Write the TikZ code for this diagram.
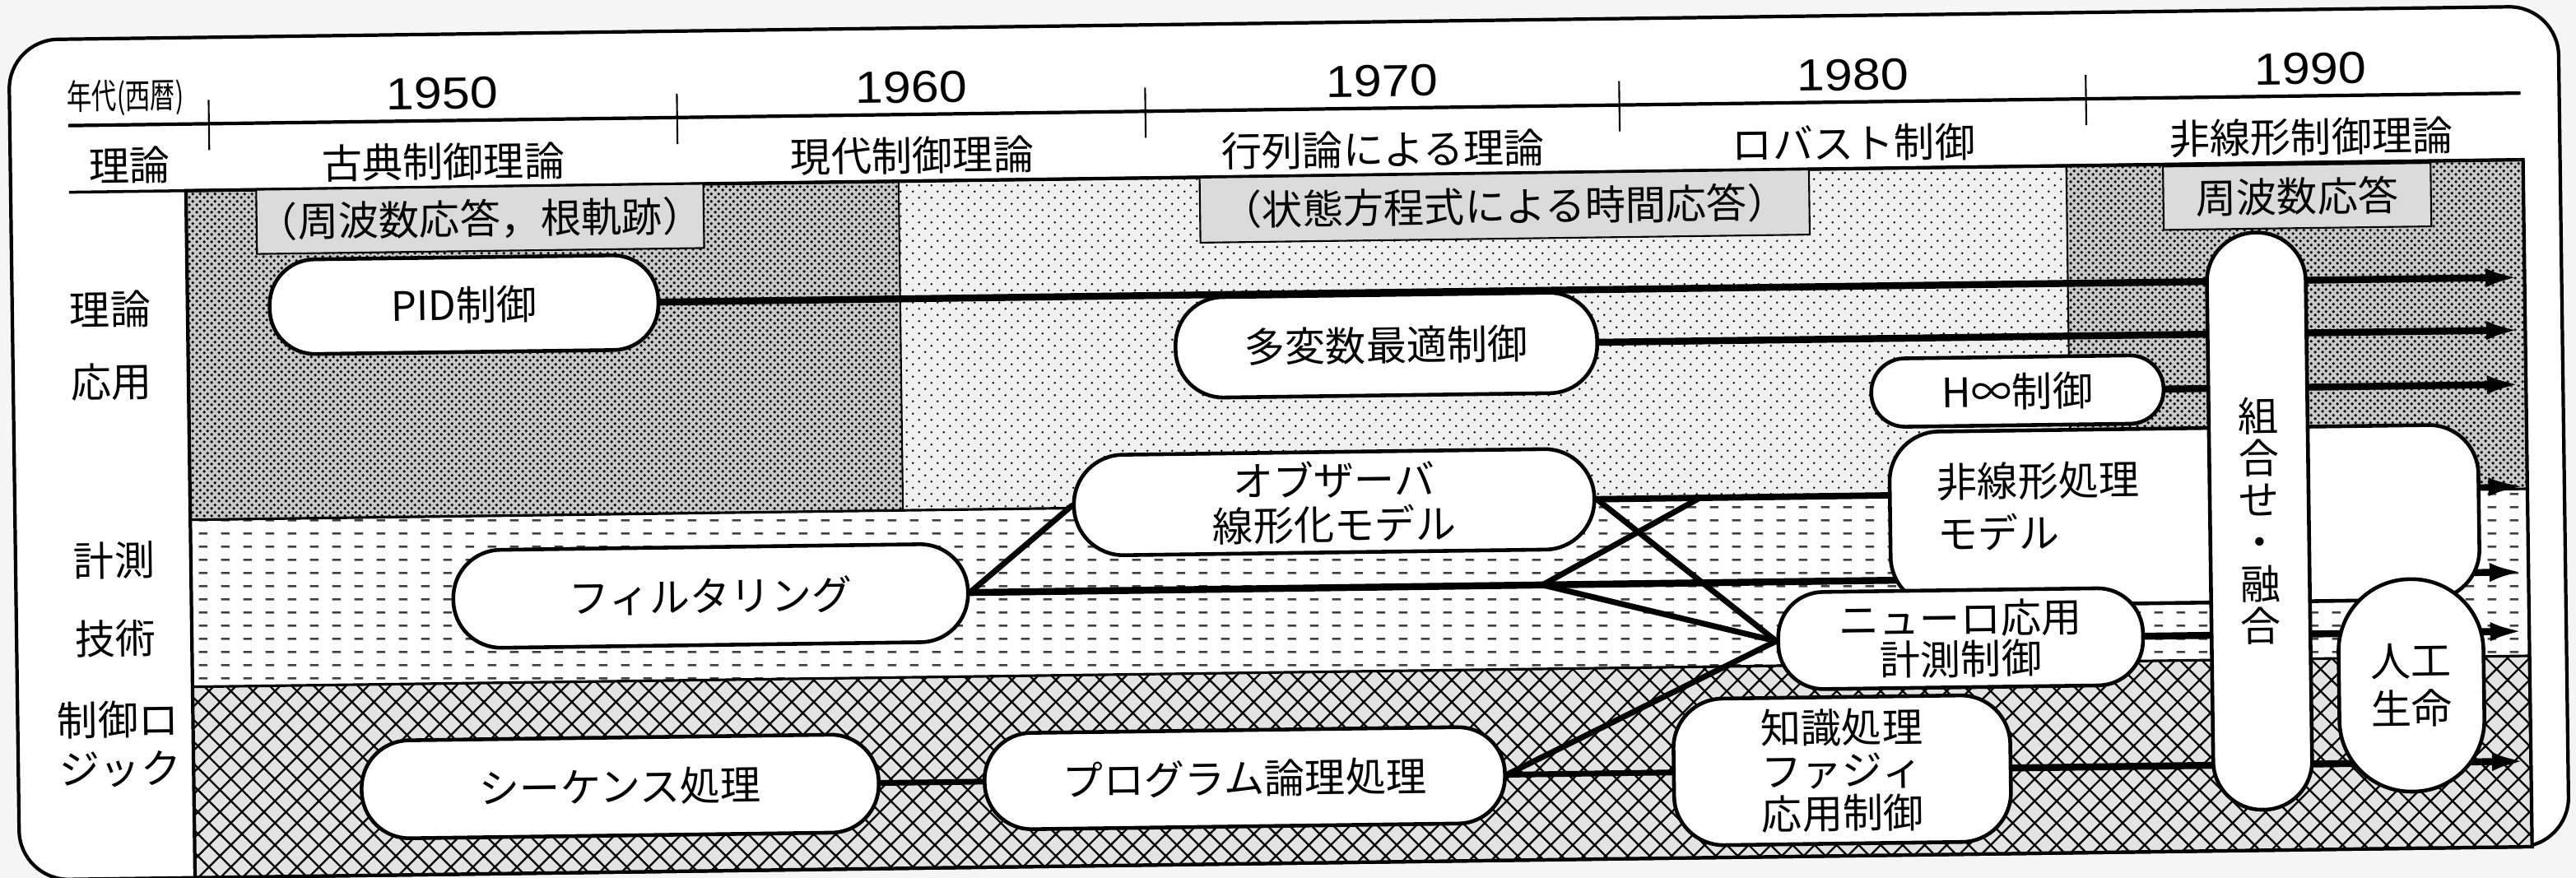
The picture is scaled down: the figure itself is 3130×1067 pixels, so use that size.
\documentclass[tikz,border=0pt]{standalone}
\usepackage{graphicx}
\usepackage{fontspec}
\setmainfont{Noto Sans CJK JP}
\newfontfamily\digitfont{Liberation Sans}
\usetikzlibrary{patterns,arrows.meta}
\pgfdeclarelayer{back}
\pgfdeclarelayer{bg}
\pgfdeclarelayer{conn}
\pgfsetlayers{back,bg,conn,main}

\pgfdeclarepatternformonly{densedots}{\pgfqpoint{0pt}{0pt}}{\pgfqpoint{2.6pt}{2.6pt}}{\pgfqpoint{2.6pt}{2.6pt}}{%
\pgfpathcircle{\pgfqpoint{0.65pt}{0.65pt}}{0.58pt}%
\pgfpathcircle{\pgfqpoint{1.95pt}{1.95pt}}{0.58pt}%
\pgfusepath{fill}}
\pgfdeclarepatternformonly{sparsedots}{\pgfqpoint{0pt}{0pt}}{\pgfqpoint{4.4pt}{4.4pt}}{\pgfqpoint{4.4pt}{4.4pt}}{%
\pgfpathcircle{\pgfqpoint{1.1pt}{1.1pt}}{0.42pt}%
\pgfpathcircle{\pgfqpoint{3.3pt}{3.3pt}}{0.42pt}%
\pgfusepath{fill}}
\pgfdeclarepatternformonly{hdash}{\pgfqpoint{0pt}{0pt}}{\pgfqpoint{7.6pt}{4.45pt}}{\pgfqpoint{7.6pt}{4.45pt}}{%
\pgfsetlinewidth{0.7pt}%
\pgfpathmoveto{\pgfqpoint{0.5pt}{2.2pt}}\pgfpathlineto{\pgfqpoint{3.5pt}{2.2pt}}%
\pgfusepath{stroke}}
\pgfdeclarepatternformonly{xhatch}{\pgfqpoint{-0.5pt}{-0.5pt}}{\pgfqpoint{8.1pt}{8.1pt}}{\pgfqpoint{7.6pt}{7.6pt}}{%
\pgfsetlinewidth{0.65pt}%
\pgfpathmoveto{\pgfqpoint{-0.5pt}{-0.5pt}}\pgfpathlineto{\pgfqpoint{8.1pt}{8.1pt}}%
\pgfpathmoveto{\pgfqpoint{-0.5pt}{8.1pt}}\pgfpathlineto{\pgfqpoint{8.1pt}{-0.5pt}}%
\pgfusepath{stroke}}

\newcommand{\myyr}[1]{\scalebox{1.12}[1]{\digitfont #1}}

\begin{document}
\begin{tikzpicture}[x=0.01cm,y=-0.01cm,
  lbl/.style={inner sep=0pt, font=\fontsize{14}{17}\selectfont},
  yrlbl/.style={inner sep=0pt, font=\fontsize{15.5}{19}\selectfont},
  pill/.style={draw, fill=white, line width=1.3pt, inner sep=0pt, align=center, font=\fontsize{14}{17}\selectfont},
  gbox/.style={draw, fill=gray!28, line width=0.6pt, inner sep=0pt, font=\fontsize{14}{17}\selectfont},
  arr/.style={line width=2.4pt, -{Latex[length=12pt,width=6.5pt]}},
  ln/.style={line width=2pt, line cap=round, line join=round}]

\useasboundingbox (0,0) rectangle (3130,1067);
\begin{pgfonlayer}{back}
  \fill[gray!8] (0,0) rectangle (3130,1067);
\end{pgfonlayer}

\begin{scope}[rotate around={0.76:(1565,533)}, transform shape]

\begin{pgfonlayer}{bg}
  % outer frame
  \draw[line width=1.2pt, fill=white, rounded corners=0.6cm] (17,28) rectangle (3115,1049);
  % bands
  \fill[gray!42] (230,214) rectangle (1096,614);
  \fill[pattern=densedots] (230,214) rectangle (1096,614);
  \fill[gray!12] (1096,214) rectangle (2515,614);
  \fill[pattern=sparsedots] (1096,214) rectangle (2515,614);
  \fill[gray!42] (2515,214) rectangle (3070,614);
  \fill[pattern=densedots] (2515,214) rectangle (3070,614);
  \fill[white] (230,614) rectangle (3070,817);
  \fill[pattern=hdash, pattern color=black!75] (230,614) rectangle (3070,817);
  \fill[gray!22] (230,817) rectangle (3070,1049);
  \fill[pattern=xhatch] (230,817) rectangle (3070,1049);
  % boundaries
  \draw[line width=0.9pt] (230,614) -- (3070,614);
  \draw[line width=0.9pt] (230,817) -- (3070,817);
  \draw[line width=0.6pt] (1096,214) -- (1096,614);
  \draw[line width=0.6pt] (2515,214) -- (2515,614);
  \draw[line width=1.2pt] (230,214) rectangle (3070,1049);
  % header lines
  \draw[line width=1.2pt] (88,133) -- (3068,133);
  \draw[line width=1pt] (88,214) -- (3070,214);
  \foreach \x in {259,828,1397,1973,2540} \draw[line width=0.6pt] (\x,104) -- (\x,165);
\end{pgfonlayer}

% header texts
\node[inner sep=0pt, font=\fontsize{12}{14}\selectfont] (era) at (158,100) {\scalebox{0.72}[1]{年代(西暦)}};
\node[yrlbl] (y1950) at (543,100) {\myyr{1950}};
\node[yrlbl] (y1960) at (1113,100) {\myyr{1960}};
\node[yrlbl] (y1970) at (1685,100) {\myyr{1970}};
\node[yrlbl] (y1980) at (2257,100) {\myyr{1980}};
\node[yrlbl] (y1990) at (2813,100) {\myyr{1990}};
\node[lbl] (hth) at (162,182) {理論};
\node[lbl] (th1) at (543,183) {古典制御理論};
\node[lbl] (th2) at (1113,183) {現代制御理論};
\node[lbl] (th3) at (1685,183) {行列論による理論};
\node[lbl] (th4) at (2257,183) {ロバスト制御};
\node[lbl] (th5) at (2813,183) {非線形制御理論};

% left labels
\node[lbl] (l1) at (136,357) {理論};
\node[lbl] (l2) at (136,445) {応用};
\node[lbl] (l3) at (137,662) {計測};
\node[lbl] (l4) at (137,757) {技術};
\node[lbl] (l5) at (139,856) {制御ロ};
\node[lbl] (l6) at (141,916) {ジック};

% gray label boxes
\node[gbox, minimum width=5.43cm, minimum height=0.78cm] (gb1) at (587,253) {（周波数応答，根軌跡）};
\node[gbox, minimum width=7.40cm, minimum height=0.79cm] (gb2) at (1832,254) {（状態方程式による時間応答）};
\node[gbox, minimum width=3.25cm, minimum height=0.77cm] (gb3) at (2795,255) {周波数応答};

% pills
\node[pill, minimum width=4.72cm, minimum height=1.15cm, rounded corners=0.55cm] (pid) at (566,357) {PID制御};
\node[pill, minimum width=5.12cm, minimum height=1.22cm, rounded corners=0.58cm] (tahen) at (1686,421) {多変数最適制御};
\node[pill, minimum width=3.55cm, minimum height=0.83cm, rounded corners=0.41cm] (hinf) at (2452,487) {H∞制御};
\node[pill, minimum width=7.15cm, minimum height=2.12cm, rounded corners=0.6cm] (nl) at (2653,641) {};
\node[inner sep=0pt, anchor=west, align=left, font=\fontsize{14}{17.9}\selectfont] (nltxt) at (2352,627) {非線形処理\\モデル};
\node[pill, minimum width=6.32cm, minimum height=1.22cm, rounded corners=0.6cm, font=\fontsize{14}{15.4}\selectfont] (obs) at (1620,611) {オブザーバ\\線形化モデル};
\node[pill, minimum width=6.25cm, minimum height=1.19cm, rounded corners=0.58cm] (fil) at (861,715) {フィルタリング};
\node[pill, minimum width=4.43cm, minimum height=1.18cm, rounded corners=0.55cm, font=\fontsize{14}{14}\selectfont] (neuro) at (2379,787) {ニューロ応用\\計測制御};
\node[pill, minimum width=4.09cm, minimum height=1.78cm, rounded corners=0.6cm, font=\fontsize{14}{14.8}\selectfont] (chishiki) at (2233,945) {知識処理\\ファジィ\\応用制御};
\node[pill, minimum width=6.32cm, minimum height=1.17cm, rounded corners=0.57cm] (prog) at (1507,945) {プログラム論理処理};
\node[pill, minimum width=6.28cm, minimum height=1.19cm, rounded corners=0.58cm] (seq) at (748,945) {シーケンス処理};
\node[pill, minimum width=1.20cm, minimum height=7.01cm, rounded corners=0.59cm, font=\fontsize{14}{14.5}\selectfont] (kumi) at (2744,649) {組\\合\\せ\\・\\融\\合};
\node[pill, minimum width=1.76cm, minimum height=2.58cm, rounded corners=0.87cm, font=\fontsize{14}{16.5}\selectfont] (jinko) at (2926,851) {人工\\生命};

\coordinate (R) at (3065,0);
\coordinate (v1) at (1872,715);
\coordinate (v2) at (2066,611);

\begin{pgfonlayer}{conn}
  \draw[arr] (pid.east) -- (pid.east -| R);
  \draw[arr] (tahen.east) -- (tahen.east -| R);
  \draw[arr] (hinf.east) -- (hinf.east -| R);
  \draw[arr, line width=1.8pt] (obs.east) -- (obs.east -| R);
  \draw[arr] (fil.east) -- (fil.east -| R);
  \draw[arr] (neuro.east) -- (neuro.east -| R);
  \draw[arr] (chishiki.east) -- (chishiki.east -| R);
  \draw[ln] (fil.east) -- (obs.west);
  \draw[ln] (v1) -- (v2);
  \draw[ln] (v1) -- (neuro.west);
  \draw[ln] (obs.east) -- (neuro.west);
  \draw[ln] (prog.east) -- (neuro.west);
  \draw[ln] (seq.east) -- (prog.west);
  \draw[ln] (prog.east) -- (chishiki.west);
\end{pgfonlayer}

\end{scope}
\end{tikzpicture}
\end{document}
